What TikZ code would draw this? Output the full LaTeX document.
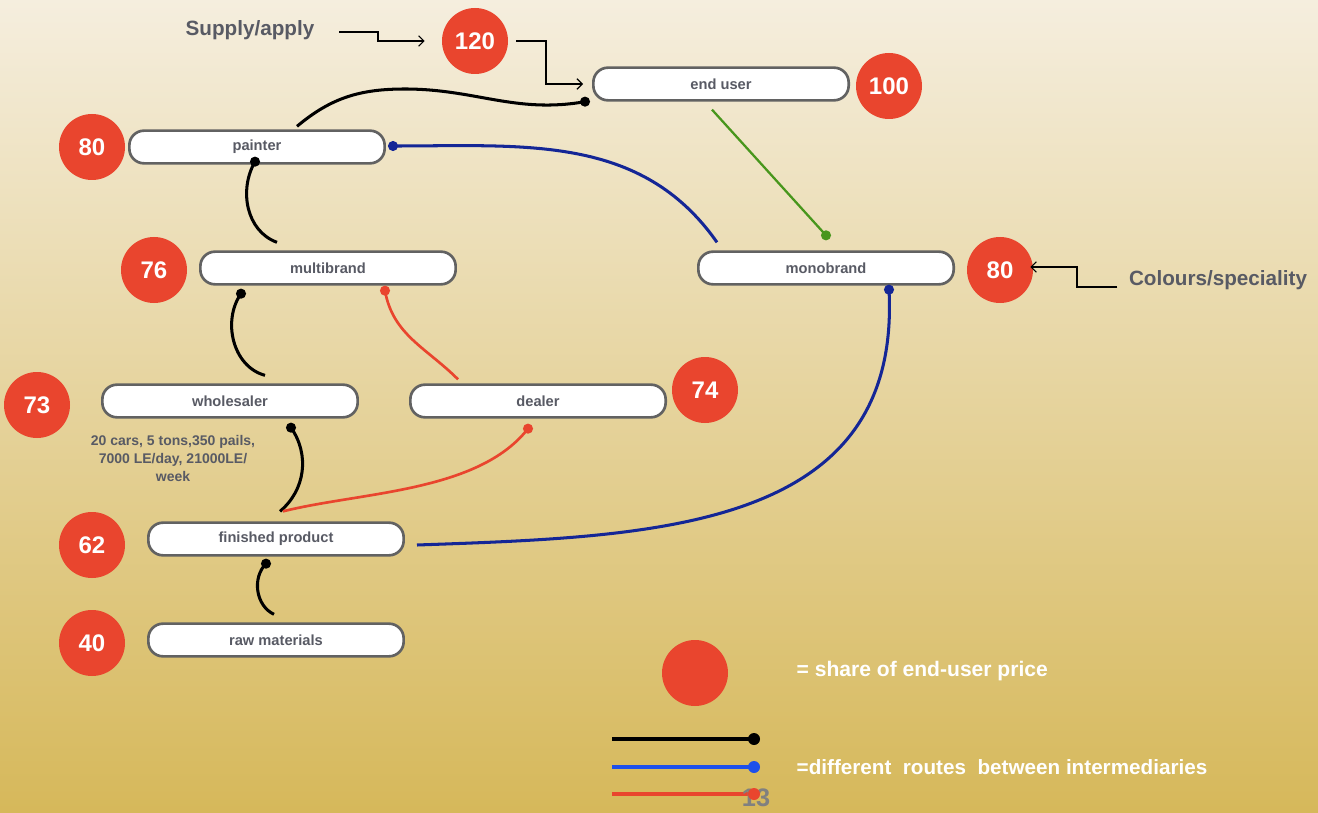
\documentclass[tikz,border=0pt]{standalone}
\usepackage{fontspec}
\setmainfont{Liberation Sans}
\usepackage{xcolor}
\usetikzlibrary{arrows,arrows.meta,calc}

\definecolor{bgtop}{RGB}{245,238,222}
\definecolor{bgbottom}{RGB}{214,184,90}
\definecolor{pricered}{RGB}{233,69,46}
\definecolor{boxgray}{RGB}{98,98,98}
\definecolor{labelgray}{RGB}{88,90,100}
\definecolor{routeblue}{RGB}{20,38,150}
\definecolor{legendblue}{RGB}{30,80,235}
\definecolor{routegreen}{RGB}{72,150,28}

\begin{document}
\begin{tikzpicture}[x=0.75pt, y=0.75pt,
    stage/.style={draw=boxgray, fill=white, line width=0.7mm, rounded corners=11pt,
        minimum width=191.5pt, minimum height=24.5pt, text=labelgray,
        font=\fontsize{11}{13}\selectfont\bfseries},
    price/.style={circle, fill=pricered, minimum size=49.5pt, inner sep=0pt, text=white,
        font=\fontsize{18}{20}\selectfont\bfseries},
    route/.style={line width=0.8mm},
    remark/.style={text=labelgray, font=\fontsize{15.5}{18}\selectfont\bfseries},
    pointer/.style={-{Straight Barb[length=4pt,width=8pt]}, line width=0.3mm}]
    \shade[top color=bgtop, bottom color=bgbottom] (0,0) rectangle (1318,-813);

    % stages of the chain
    \node[stage] (enduser) at (721,-84) {end user};
    \node[stage] (painter) at (257,-147) {painter};
    \node[stage] (multibrand) at (328,-268) {multibrand};
    \node[stage] (monobrand) at (826,-268) {monobrand};
    \node[stage] (wholesaler) at (230,-401) {wholesaler};
    \node[stage] (dealer) at (538,-401) {dealer};
    \node[stage] (finished) at (276,-539) {finished product};
    \node[stage] (raw) at (276,-640) {raw materials};

    % share of end-user price
    \node[price] (p120) at (475,-41) {120};
    \node[price] (penduser) at (889,-86) {100};
    \node[price] (ppainter) at (92,-147) {80};
    \node[price] (pmulti) at (154,-270) {76};
    \node[price] (pmono) at (1000,-270) {80};
    \node[price] (pwhole) at (37,-405) {73};
    \node[price] (pdealer) at (705,-390) {74};
    \node[price] (pfinished) at (92,-545) {62};
    \node[price] (praw) at (92,-643) {40};

    \node[remark] (supply) at (250,-30) {Supply/apply};
    \node[remark] (colours) at (1218,-280) {Colours/speciality};
    \node[text=labelgray, align=center, font=\fontsize{10.5}{13.5}\selectfont\bfseries] (volume) at (173,-458)
        {20 cars, 5 tons,350 pails,\\7000 LE/day, 21000LE/\\week};

    \draw[pointer] ($(supply.east)+(20,-2)$) -- (378,-32) |- ($(p120.west)+(-17,0)$);
    \draw[pointer] ($(p120.east)+(8,0)$) -| (546,-84) -- ($(enduser.west)+(-9,0)$);
    \draw[pointer] ($(colours.west)+(-7,-7)$) -- (1077,-287) |- ($(pmono.east)+(-3,3)$);

    % routes between intermediaries
    \coordinate (pt1) at ($(painter.north)+(40,3)$);
    \coordinate (top) at (405,-89);
    \coordinate (dot1) at ($(enduser.south west)+(-7,0)$);
    \draw[route] (pt1) to[out=40,in=180] (top) to[out=0,in=190] (dot1);

    \coordinate (dot2) at ($(painter.south)+(-2,3)$);
    \coordinate (pt2) at ($(multibrand.north)+(-51,8)$);
    \draw[route] (dot2) to[out=240,in=160] (pt2);

    \coordinate (dot3) at ($(painter.east)+(7,1)$);
    \coordinate (pt3) at ($(monobrand.north)+(-109,8)$);
    \draw[route, routeblue] (dot3) to[out=0,in=125] (pt3);

    \coordinate (pt4) at ($(enduser.south)+(-9,-8)$);
    \coordinate (dot4) at ($(monobrand.north)+(0,15)$);
    \draw[route, routegreen, line width=0.6mm] (pt4) -- (dot4);

    \coordinate (dot5) at ($(multibrand.south)+(-87,-8)$);
    \coordinate (pt5) at ($(wholesaler.north)+(35,8)$);
    \draw[route] (dot5) to[out=235,in=165] (pt5);

    \coordinate (dot6) at ($(multibrand.south)+(57,-5)$);
    \coordinate (pt6) at ($(dealer.north)+(-80,4)$);
    \draw[route, pricered, line width=0.7mm] (dot6) to[out=-80,in=135] (pt6);

    \coordinate (dot7) at ($(wholesaler.south)+(61,-9)$);
    \coordinate (pt7) at ($(finished.north)+(4,10)$);
    \draw[route] (dot7) to[out=-55,in=40] (pt7);

    \coordinate (dot8) at ($(dealer.south)+(-10,-10)$);
    \coordinate (pt8) at ($(finished.north)+(7,10)$);
    \draw[route, pricered, line width=0.7mm] (dot8) to[out=-128,in=14,looseness=0.8] (pt8);

    \coordinate (dot9) at ($(monobrand.south)+(63,-4)$);
    \coordinate (pt9) at ($(finished.east)+(12,-6)$);
    \draw[route, routeblue] (dot9) to[out=-87,in=2,looseness=1.15] (pt9);

    \coordinate (dot10) at ($(finished.south)+(-10,-7)$);
    \coordinate (pt10) at ($(raw.north)+(-2,8)$);
    \draw[route] (dot10) to[out=225,in=155] (pt10);

    \fill (dot1) circle (3.8pt);
    \fill (dot2) circle (3.8pt);
    \fill[routeblue] (dot3) circle (3.8pt);
    \fill[routegreen] (dot4) circle (3.8pt);
    \fill (dot5) circle (3.8pt);
    \fill[pricered] (dot6) circle (3.8pt);
    \fill (dot7) circle (3.8pt);
    \fill[pricered] (dot8) circle (3.8pt);
    \fill[routeblue] (dot9) circle (3.8pt);
    \fill (dot10) circle (3.8pt);

    % legend
    \node[price] (legprice) at (695,-673) {};
    \node[anchor=west, text=white, font=\fontsize{15.8}{18}\selectfont\bfseries] (legshare) at (792,-671) {= share of end-user price};
    \coordinate (lblack) at (612,-739);
    \coordinate (lblackdot) at (754,-739);
    \coordinate (lblue) at (612,-767);
    \coordinate (lbluedot) at (754,-767);
    \coordinate (lred) at (612,-794);
    \coordinate (lreddot) at (754,-794);
    \draw[route] (lblack) -- (lblackdot);
    \draw[route, legendblue] (lblue) -- (lbluedot);
    \draw[route, pricered] (lred) -- (lreddot);
    \fill (lblackdot) circle (4.5pt);
    \fill[legendblue] (lbluedot) circle (4.5pt);
    \node[anchor=west, text=white, font=\fontsize{15.5}{18}\selectfont\bfseries] (legroutes) at (792,-767)
        {=different\ \ routes\ \ between intermediaries};
    \node[text=gray, font=\fontsize{19}{21}\selectfont\bfseries] (pagenum) at (756,-798) {13};
    \fill[pricered] (lreddot) circle (4.5pt);
\end{tikzpicture}
\end{document}
